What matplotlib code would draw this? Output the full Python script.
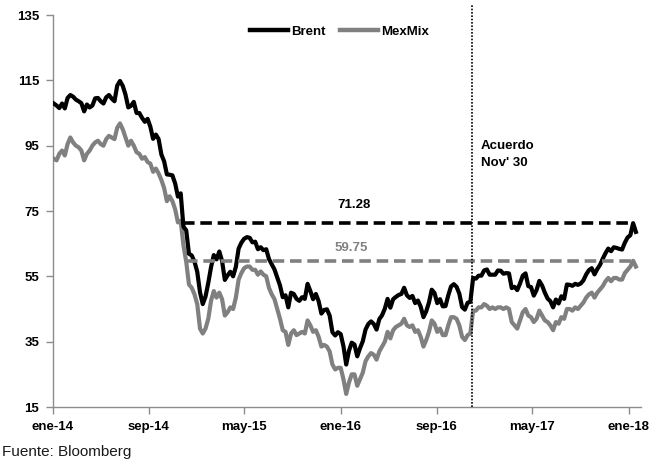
import matplotlib
matplotlib.use("Agg")
import matplotlib.pyplot as plt
import pandas as pd

# Weekly closing prices (USD per barrel), Fridays from 3 Jan 2014 to 19 Jan 2018
brent = [
    # 2014
    107.9, 107.3, 106.5, 107.9, 106.4,
    109.6, 110.5, 110.0, 109.1,
    108.6, 108.0, 105.5, 107.6,
    106.7, 107.3, 109.5, 109.6,
    108.6, 107.9, 109.8, 110.5, 109.4,
    108.6, 113.4, 114.8, 113.3,
    110.6, 106.7, 107.2, 108.4,
    105.0, 105.0, 103.5, 102.3, 103.2,
    100.8, 97.1, 98.4, 97.0,
    92.3, 90.2, 86.2, 86.1, 85.9,
    83.4, 79.4, 80.4, 70.2,
    69.1, 61.9, 61.4, 59.5,
    # 2015
    56.4, 50.1, 46.5, 48.8, 53.0,
    57.8, 61.5, 60.2, 62.6,
    59.7, 53.9, 55.3, 56.4,
    55.0, 57.9, 63.5, 65.3,
    66.5, 67.0, 66.8, 65.4, 65.6,
    63.3, 63.9, 63.0, 63.3,
    60.3, 58.7, 57.1, 54.6, 52.2,
    48.6, 49.2, 45.5, 50.0,
    49.6, 48.1, 47.5, 48.6,
    48.1, 52.7, 50.5, 48.0, 49.6,
    47.4, 43.6, 44.7, 44.9,
    43.0, 37.9, 36.9, 37.9,
    # 2016
    37.3, 33.6, 28.0, 32.2, 34.7,
    34.1, 30.5, 33.0, 35.1,
    38.7, 40.4, 41.2, 40.4,
    38.7, 41.9, 43.1, 45.1, 48.1,
    45.4, 48.0, 48.7, 49.3,
    49.6, 51.5, 49.2, 48.4,
    49.0, 46.8, 47.6, 45.7, 42.5,
    44.3, 47.0, 50.9, 49.9,
    46.8, 48.0, 45.8, 45.9, 49.2,
    51.9, 52.6, 51.8, 49.7,
    45.6, 44.8, 46.9, 47.2,
    54.5, 54.3, 55.2, 55.2, 56.8,
    # 2017
    57.1, 55.5, 55.5, 55.5,
    56.8, 56.7, 55.8, 56.0,
    55.9, 51.4, 51.8, 50.8, 52.8,
    55.2, 55.9, 52.0, 51.7,
    49.1, 50.8, 53.6, 52.2,
    50.0, 48.2, 47.4, 45.5, 47.9,
    46.7, 48.9, 48.1, 52.5,
    52.4, 52.1, 52.7, 52.4,
    52.8, 53.8, 55.6, 56.9, 57.5,
    55.6, 57.2, 58.5, 60.4,
    62.1, 63.5, 62.7, 63.9,
    63.7, 63.4, 63.2, 65.3, 66.9,
    # 2018
    67.6, 71.28, 68.6,
]

mexmix = [
    # 2014
    91.0, 90.5, 92.5, 93.5, 92.0,
    95.5, 97.5, 96.0, 95.0,
    94.5, 93.5, 90.5, 92.5,
    93.5, 95.0, 96.0, 96.5,
    95.5, 95.0, 97.0, 98.0, 97.5,
    97.0, 100.5, 101.8, 100.0,
    97.5, 95.0, 96.5, 95.0,
    93.0, 92.5, 91.0, 91.5, 90.0,
    89.5, 87.0, 88.0, 86.5,
    84.5, 82.0, 78.0, 79.5, 78.0,
    75.5, 71.5, 72.0, 64.5,
    59.5, 52.5, 51.5, 49.5,
    # 2015
    46.5, 39.0, 37.5, 39.0, 42.0,
    47.5, 50.5, 48.5, 50.0,
    48.0, 43.0, 44.0, 45.5,
    45.0, 48.5, 54.0, 56.0,
    57.5, 58.0, 58.0, 57.0, 57.0,
    55.5, 56.5, 55.5, 55.0,
    51.5, 49.5, 48.0, 45.0, 42.0,
    38.5, 38.0, 34.0, 37.5,
    38.5, 37.0, 37.5, 38.0,
    37.5, 41.5, 40.0, 38.0, 38.5,
    36.5, 33.5, 34.0, 33.5,
    32.0, 28.0, 26.5, 27.0,
    # 2016
    27.0, 23.5, 19.0, 22.5, 25.0,
    25.0, 21.5, 23.5, 25.5,
    29.0, 30.5, 31.5, 31.0,
    29.5, 32.0, 33.5, 35.0, 38.0,
    36.0, 38.5, 39.5, 40.0,
    40.5, 42.0, 40.0, 39.5,
    40.0, 38.0, 38.5, 36.5, 33.5,
    35.5, 38.0, 41.5, 40.5,
    38.0, 39.0, 37.0, 37.0, 40.0,
    42.5, 42.5, 42.0, 40.0,
    36.5, 35.5, 37.0, 37.5,
    44.5, 44.5, 45.5, 45.5, 46.5,
    # 2017
    46.0, 45.0, 45.5, 45.0,
    45.5, 45.5, 45.0, 45.5,
    45.0, 41.0, 40.0, 39.0, 41.5,
    44.0, 45.0, 43.0, 42.5,
    41.0, 42.0, 44.5, 43.0,
    41.5, 41.0, 40.0, 38.5, 41.0,
    40.5, 42.5, 42.0, 45.0,
    45.0, 44.5, 45.5, 45.0,
    46.0, 47.0, 48.5, 49.5, 50.0,
    48.5, 50.0, 51.0, 52.0,
    53.5, 54.5, 53.5, 54.5,
    54.5, 54.0, 54.0, 56.0, 57.0,
    # 2018
    58.0, 59.75, 58.0,
]

series_names = ["Brent", "MexMix"]
brent_ref = 71.28
mexmix_ref = 59.75
agreement_date = "2016-11-30"
agreement_label = "Acuerdo\nNov' 30"
tick_dates = ["2014-01-01", "2014-09-01", "2015-05-01", "2016-01-01",
              "2016-09-01", "2017-05-01", "2018-01-01"]
tick_labels = ["ene-14", "sep-14", "may-15", "ene-16", "sep-16", "may-17", "ene-18"]
y_ticks = [15, 35, 55, 75, 95, 115, 135]
source = "Fuente: Bloomberg"

dates = pd.date_range("2014-01-03", periods=len(brent), freq="W-FRI")
df = pd.DataFrame({"Brent": brent, "MexMix": mexmix}, index=dates)

FAMILY = ["Liberation Sans", "DejaVu Sans"]
BOLD = dict(family=FAMILY, weight="bold")
FS = 9.5
BLACK = "#000000"
GREY = "#808080"
AXIS_GREY = "#8c8c8c"

fig = plt.figure(figsize=(6.49, 4.62), dpi=100)
ax = fig.add_axes([53 / 649, 55 / 462, 588 / 649, 392 / 462])

ax.plot(df.index, df["Brent"], color=BLACK, lw=3.0, label=series_names[0],
        solid_joinstyle="round", zorder=4)
ax.plot(df.index, df["MexMix"], color=GREY, lw=3.0, label=series_names[1],
        solid_joinstyle="round", zorder=3)


def ref_span(values, level):
    """From the first drop below `level` after the 2014 peak to the last reading at `level`."""
    s = pd.Series(values, index=dates)
    start = s[(s.index > "2014-07-01") & (s < level)].index[0]
    end = s[s >= level - 1e-9].index[-1]
    return start, end


b0, b1 = ref_span(brent, brent_ref)
m0, m1 = ref_span(mexmix, mexmix_ref)
ax.hlines(brent_ref, b0, b1, colors=BLACK, lw=2.6, linestyles=(0, (3.2, 1.6)), zorder=5)
ax.hlines(mexmix_ref, m0, m1, colors=GREY, lw=2.6, linestyles=(0, (3.2, 1.6)), zorder=5)

mid_b = b0 + (b1 - b0) * 0.38
mid_m = m0 + (m1 - m0) * 0.37
ax.text(mid_b, brent_ref + 5.6, f"{brent_ref:.2f}", ha="center", va="center",
        color=BLACK, fontsize=FS, **BOLD)
ax.text(mid_m, mexmix_ref + 4.0, f"{mexmix_ref:.2f}", ha="center", va="center",
        color=GREY, fontsize=FS, **BOLD)

# Agreement marker
agree = pd.Timestamp(agreement_date)
ax.axvline(agree, ymin=0, ymax=1.025, color=BLACK, lw=1.2, ls=(0, (1, 1)),
           clip_on=False, zorder=6)
ax.text(agree + pd.Timedelta(days=22), 92.3, agreement_label, ha="left", va="center",
        color=BLACK, fontsize=FS, linespacing=1.55, **BOLD)

ax.set_xlim(pd.Timestamp("2014-01-01"), pd.Timestamp("2018-02-01"))
ax.set_ylim(15, 135)
ax.set_yticks(y_ticks)
ax.set_xticks(pd.to_datetime(tick_dates))
ax.set_xticklabels(tick_labels)

for side in ("top", "right"):
    ax.spines[side].set_visible(False)
for side in ("left", "bottom"):
    ax.spines[side].set_color(AXIS_GREY)
    ax.spines[side].set_linewidth(1.0)

ax.tick_params(axis="y", direction="out", length=5, width=1, color=AXIS_GREY, pad=5)
ax.tick_params(axis="x", direction="out", length=5, width=1, color=AXIS_GREY, pad=5)
for lab in ax.get_xticklabels() + ax.get_yticklabels():
    lab.set_fontfamily(FAMILY)
    lab.set_fontweight("bold")
    lab.set_fontsize(FS)
    lab.set_color(BLACK)

leg = ax.legend(loc="center", bbox_to_anchor=(0.487, 0.957), ncol=2,
                frameon=False, handlelength=2.9, handletextpad=0.2,
                columnspacing=1.1, borderpad=0.0,
                prop=dict(family=FAMILY, weight="bold", size=FS))
for line in leg.get_lines():
    line.set_linewidth(3.2)

fig.text(2 / 649, 1 - 452 / 462, source, ha="left", va="center", fontsize=11,
         family=FAMILY, color="#1a1a1a")

fig.savefig("out.png", dpi=100)
